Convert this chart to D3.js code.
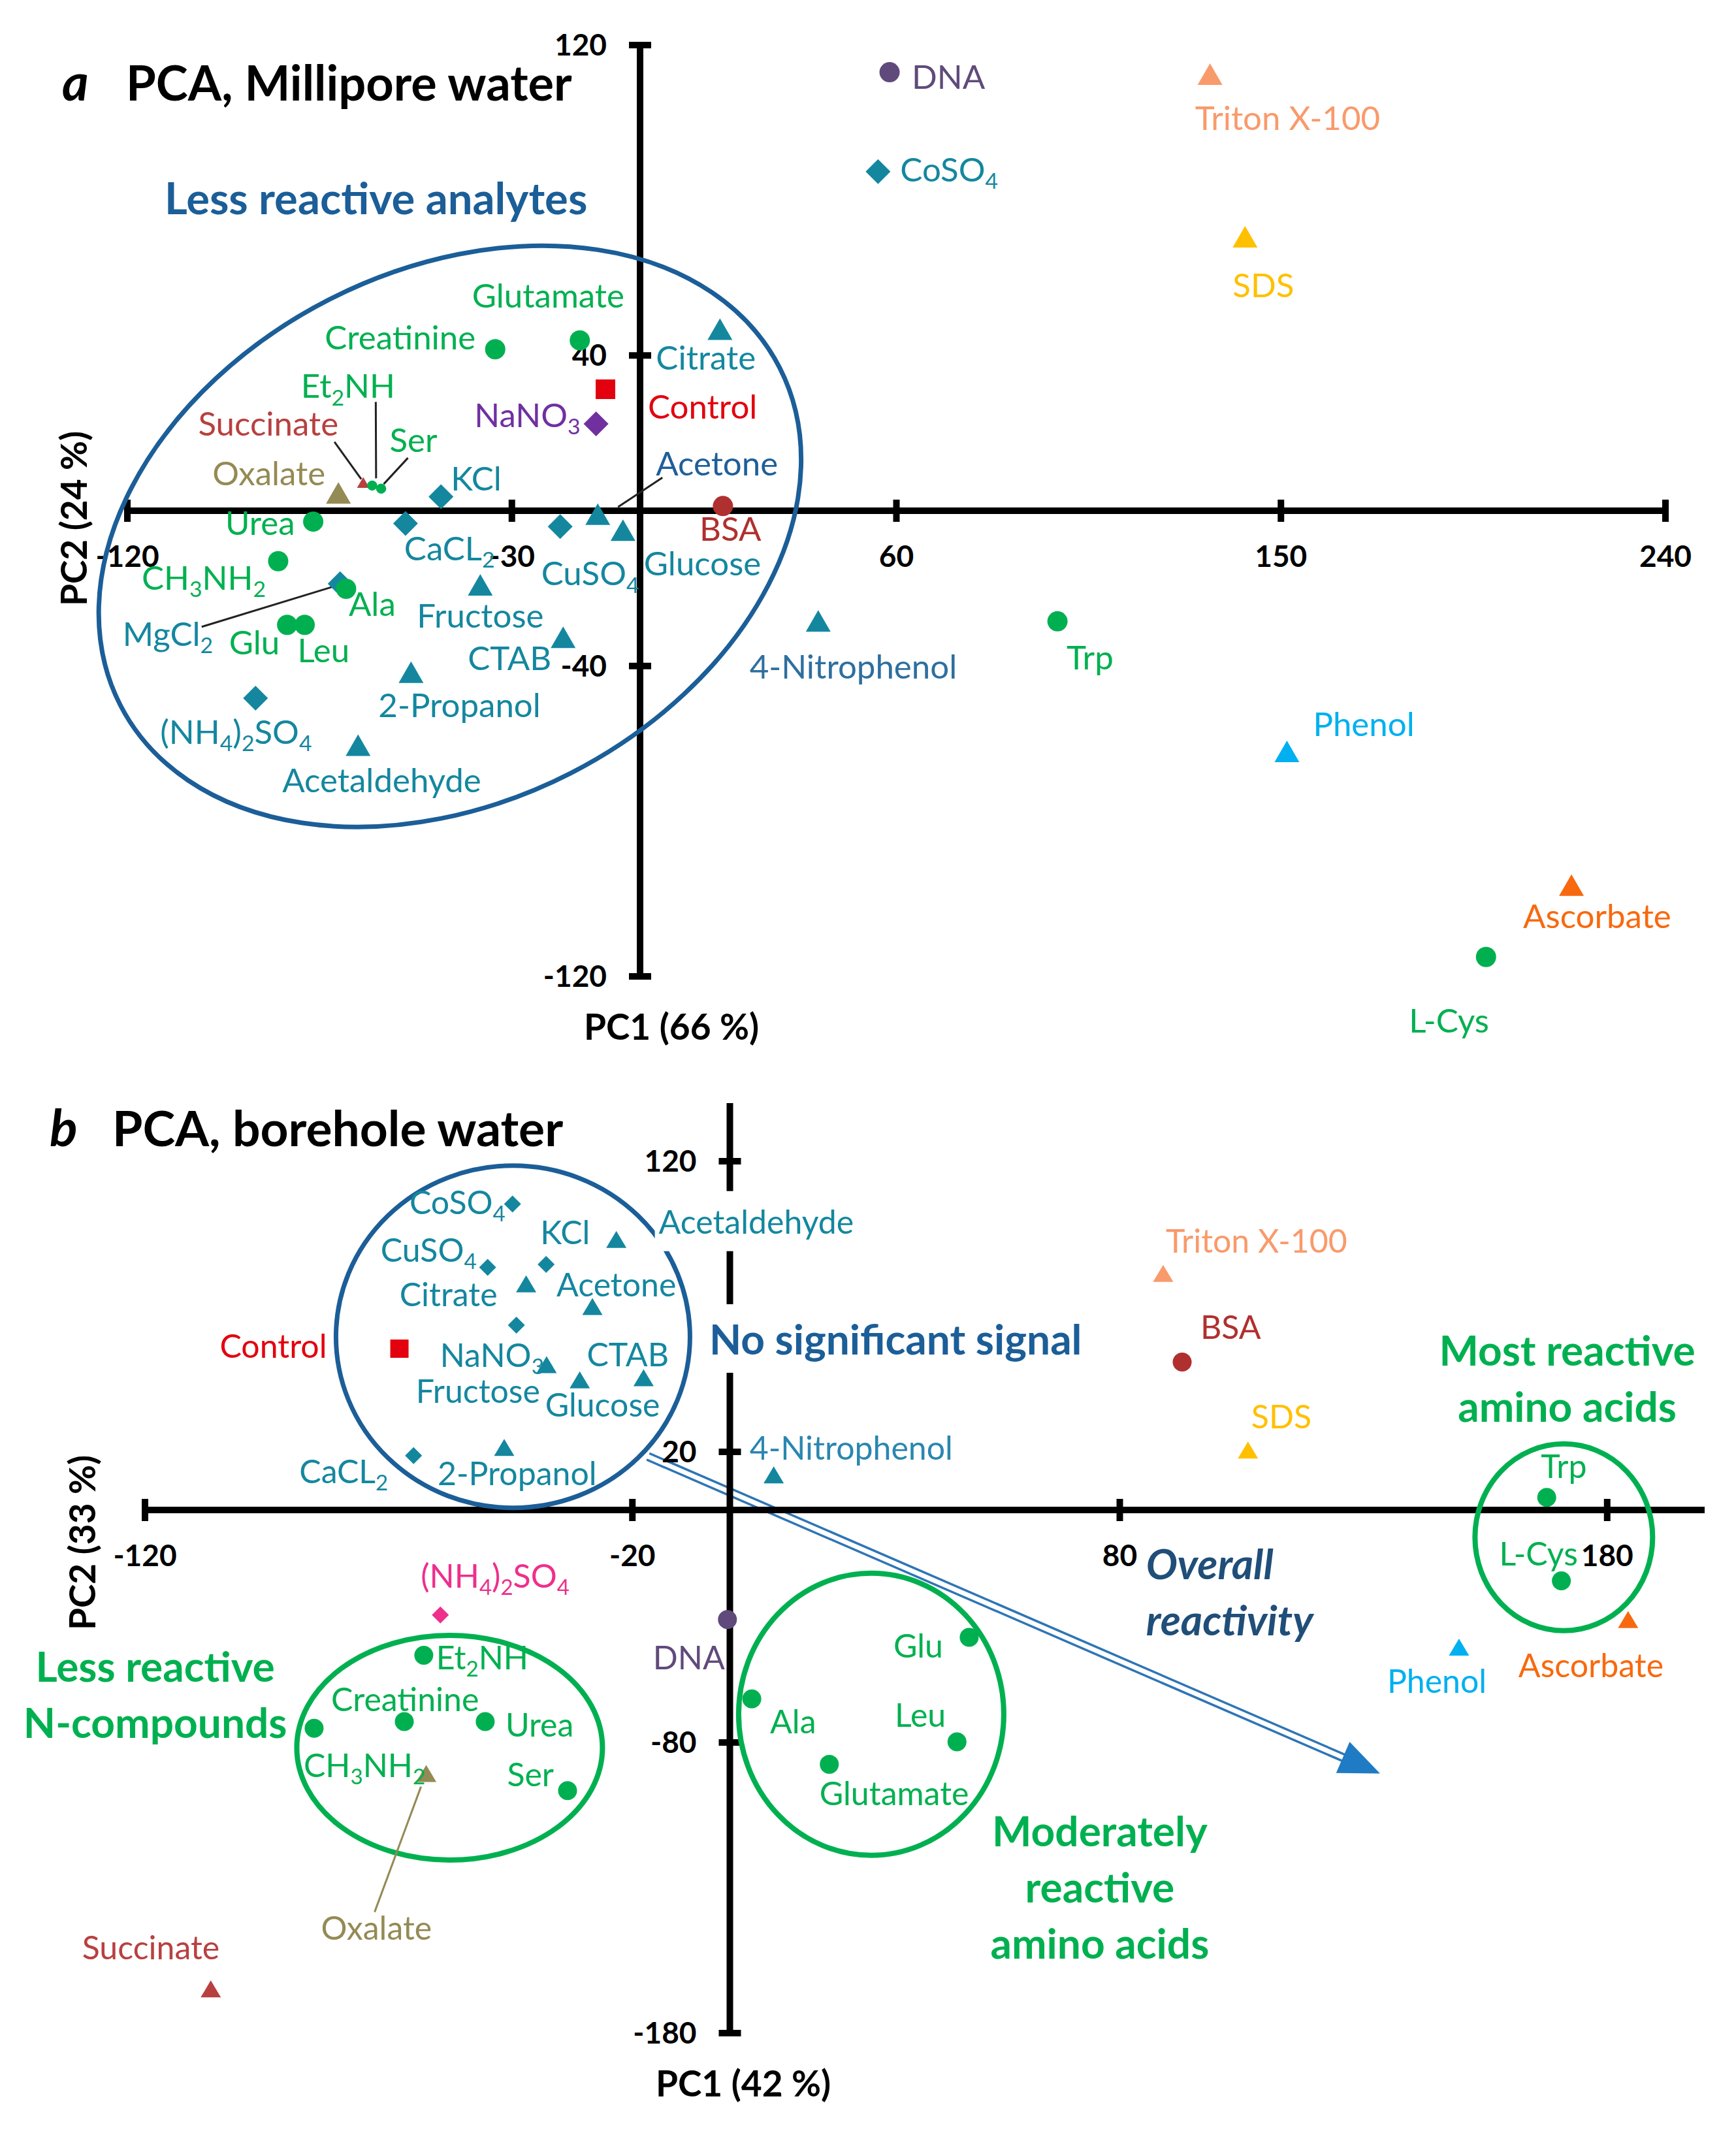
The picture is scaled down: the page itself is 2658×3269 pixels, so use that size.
<!DOCTYPE html>
<html>
<head>
<meta charset="utf-8">
<script src="https://cdn.jsdelivr.net/npm/d3@7"></script>
<style>
  body { margin: 0; background: #fff; }
  text { font-family: Lato, "Open Sans", sans-serif; }
</style>
</head>
<body>
<div id="chart"></div>
<script>
// analytes, same order in both panels
var analytes = ["Control", "NaNO3", "KCl", "CaCl2", "MgCl2", "CuSO4", "CoSO4", "(NH4)2SO4",
  "Citrate", "Acetone", "Glucose", "Fructose", "CTAB", "2-Propanol", "Acetaldehyde", "4-Nitrophenol",
  "Phenol", "SDS", "Triton X-100", "Ascorbate", "Succinate", "Oxalate",
  "BSA", "DNA",
  "Glutamate", "Creatinine", "Et2NH", "Ser", "Urea", "CH3NH2", "Ala", "Glu", "Leu", "Trp", "L-Cys"];

var analyteKind = ["control", "salt", "salt", "salt", "salt", "salt", "salt", "salt",
  "organic", "organic", "organic", "organic", "organic", "organic", "organic", "organic",
  "organic", "organic", "organic", "organic", "organic", "organic",
  "bio", "bio",
  "nitrogen", "nitrogen", "nitrogen", "nitrogen", "nitrogen", "nitrogen", "nitrogen", "nitrogen", "nitrogen", "nitrogen", "nitrogen"];

// panel a: Millipore water
var pc1A = [-8.1, -10.3, -46.6, -54.9, -70.2, -18.7, 55.7, -90.0,
  18.7, -9.9, -4.0, -37.4, -18.0, -53.6, -66.0, 41.7,
  151.4, 141.6, 133.4, 218.0, -64.8, -70.6,
  19.4, 58.4,
  -14.1, -33.9, -62.7, -60.6, -76.5, -84.7, -68.8, -82.6, -78.5, 97.7, 198.0];
var pc2A = [31.3, 22.4, 3.6, -3.3, -18.8, -4.1, 87.4, -48.3,
  46.8, -0.9, -5.0, -19.1, -32.6, -41.6, -60.4, -28.4,
  -62.0, 70.6, 112.5, -96.5, 7.3, 4.6,
  1.2, 113.0,
  43.9, 41.6, 6.5, 5.7, -2.8, -13.0, -20.1, -29.4, -29.4, -28.5, -115.0];

// panel b: borehole water (no MgCl2)
var pc1B = [-67.8, -43.8, -37.7, -64.9, null, -49.7, -44.6, -59.4,
  -41.8, -28.2, -30.8, -37.6, -17.7, -46.3, -23.3, 9.0,
  149.6, 106.3, 88.9, 184.3, -106.5, -62.3,
  92.8, -0.5,
  20.4, -66.8, -62.8, -33.3, -50.2, -85.3, 4.5, 49.1, 46.6, 167.6, 170.6];
var pc2B = [55.5, 63.6, 84.5, 18.7, null, 83.5, 105.3, -36.1,
  77.8, 70.0, 44.8, 50.0, 45.5, 21.5, 93.1, 12.1,
  -47.2, 20.6, 81.4, -37.7, -164.8, -90.7,
  50.9, -37.7,
  -87.5, -72.8, -50.0, -96.6, -72.8, -75.1, -65.0, -43.8, -79.8, 4.3, -24.4];

var ticksAx = [-120, -30, 60, 150, 240];
var ticksAy = [120, 40, -40, -120];
var ticksBx = [-120, -20, 80, 180];
var ticksBy = [120, 20, -80, -180];

// ---------- styles ----------
var width = 2658, height = 3269;
var teal = "#14879F", green = "#00B050", blue = "#1B5E98";

var kindShape = { control: "square", salt: "diamond", organic: "triangle", bio: "circle", nitrogen: "circle" };
var kindColor = { control: "#E3000F", salt: teal, organic: teal, bio: teal, nitrogen: green };
var nameColor = {
  "DNA": "#604A7B", "BSA": "#B0302F", "Triton X-100": "#F99A6B", "SDS": "#FFC000",
  "Phenol": "#00B0F0", "Ascorbate": "#F8690F", "Succinate": "#B8403F", "Oxalate": "#948A54"
};
var panelColor = {
  a: { "NaNO3": "#7030A0" },
  b: { "(NH4)2SO4": "#EE2F8C" }
};
var labelColorOverride = {
  a: { "Acetone": "#1F5F99", "4-Nitrophenol": "#2E6F9E" },
  b: { "4-Nitrophenol": "#2A86B0" }
};

var labelText = {
  "NaNO3": "NaNO{3}", "CaCl2": "CaCL{2}", "MgCl2": "MgCl{2}", "CuSO4": "CuSO{4}",
  "CoSO4": "CoSO{4}", "(NH4)2SO4": "(NH{4}){2}SO{4}", "Et2NH": "Et{2}NH", "CH3NH2": "CH{3}NH{2}"
};

// label offsets from marker in px: [dx, dy, anchor]
var labelPosA = {
  "Control": [65, 45, "start"], "NaNO3": [-24, 5, "end"], "KCl": [15, -10, "start"],
  "CaCl2": [-2, 56, "start"], "MgCl2": [-333, 95, "start"], "CuSO4": [-29, 90, "start"],
  "CoSO4": [34, 15, "start"], "(NH4)2SO4": [-146, 70, "start"], "Citrate": [-98, 62, "start"],
  "Acetone": [89, -59, "start"], "Glucose": [32, 69, "start"], "Fructose": [-97, 66, "start"],
  "CTAB": [-18, 50, "end"], "2-Propanol": [-50, 69, "start"], "Acetaldehyde": [-116, 72, "start"],
  "4-Nitrophenol": [-105, 88, "start"], "Phenol": [40, -23, "start"], "SDS": [-19, 92, "start"],
  "Triton X-100": [-23, 85, "start"], "Ascorbate": [-74, 66, "start"], "Succinate": [-38, -72, "end"],
  "Oxalate": [-20, -12, "end"], "BSA": [-36, 53, "start"], "DNA": [34, 25, "start"],
  "Glutamate": [-165, -50, "start"], "Creatinine": [-30, 0, "end"], "Et2NH": [-109, -134, "start"],
  "Ser": [13, -56, "start"], "Urea": [-28, 20, "end"], "CH3NH2": [-19, 44, "end"],
  "Ala": [4, 42, "start"], "Glu": [-89, 45, "start"], "Leu": [-11, 57, "start"],
  "Trp": [14, 74, "start"], "L-Cys": [-118, 116, "start"]
};
var labelPosB = {
  "Control": [-111, 14, "end"], "NaNO3": [-117, 64, "start"], "KCl": [-9, -31, "start"],
  "CaCl2": [-39, 42, "end"], "CuSO4": [-17, -8, "end"], "CoSO4": [-11, 16, "end"],
  "(NH4)2SO4": [-30, -42, "start"], "Citrate": [-44, 34, "end"], "Acetone": [-55, -16, "start"],
  "Glucose": [-53, 56, "start"], "Fructose": [-10, 58, "end"], "CTAB": [-87, -18, "start"],
  "2-Propanol": [-102, 58, "start"], "Acetaldehyde": [65, -9, "start"], "4-Nitrophenol": [-37, -23, "start"],
  "Phenol": [-110, 70, "start"], "SDS": [5, -33, "start"], "Triton X-100": [4, -32, "start"],
  "Ascorbate": [-168, 88, "start"], "Succinate": [-197, -45, "start"], "Oxalate": [-161, 254, "start"],
  "BSA": [28, -35, "start"], "DNA": [-4, 76, "end"], "Glutamate": [-15, 63, "start"],
  "Creatinine": [-112, -16, "start"], "Et2NH": [19, 21, "start"], "Ser": [-21, -7, "end"],
  "Urea": [31, 23, "start"], "CH3NH2": [-16, 75, "start"], "Ala": [28, 53, "start"],
  "Glu": [-40, 31, "end"], "Leu": [-17, -23, "end"], "Trp": [-9, -30, "start"], "L-Cys": [-95, -24, "start"]
};
var leadersA = {
  "Et2NH": [5.5, -128, 6, -11], "Succinate": [-44, -62, -3, -5], "Ser": [41, -47, 4, -7],
  "Acetone": [99, -56, 31, -11], "MgCl2": [-212, 66, -9, 4]
};
var leadersB = { "Oxalate": [-79, 212, -8, 20] };
var labelBackground = { b: { "Acetaldehyde": true } };
var smallMarkers = { a: { "Succinate": true, "Et2NH": true, "Ser": true } };

var svg = d3.select("#chart")
  .append("svg")
    .attr("width", width)
    .attr("height", height);

svg.append("rect").attr("width", width).attr("height", height).attr("fill", "#fff");

var panels = [
  {
    id: "a", pc1: pc1A, pc2: pc2A, ticksX: ticksAx, ticksY: ticksAy,
    x: d3.scaleLinear().domain([-120, 240]).range([195, 2550]),
    y: d3.scaleLinear().domain([-120, 120]).range([1495, 69]),
    xLine: [-120, 240], yLine: [-120, 120],
    labels: labelPosA, leaders: leadersA, leaderColor: "#222",
    size: { r: 15.5, d: 19, tw: 38, th: 33, sq: 30 }, fontSize: 51,
    title: "PCA, Millipore water", titleSize: 74, titleY: 154, letterX: 95, titleX: 193,
    xTitle: "PC1 (66 %)", xTitlePos: [1028, 1592], yTitle: "PC2 (24 %)", yTitlePos: [133, 794]
  },
  {
    id: "b", pc1: pc1B, pc2: pc2B, ticksX: ticksBx, ticksY: ticksBy,
    x: d3.scaleLinear().domain([-120, 200]).range([222, 2610]),
    y: d3.scaleLinear().domain([-180, 140]).range([3113, 1689]),
    xLine: [-120, 200], yLine: [-180, 140],
    labels: labelPosB, leaders: leadersB, leaderColor: "#948A54",
    size: { r: 14.5, d: 13, tw: 31, th: 26, sq: 28 }, fontSize: 50,
    title: "PCA, borehole water", titleSize: 75, titleY: 1755, letterX: 76, titleX: 172,
    xTitle: "PC1 (42 %)", xTitlePos: [1138, 3210], yTitle: "PC2 (33 %)", yTitlePos: [146, 2362]
  }
];

panels.forEach(drawPanel);

function drawPanel(p) {
  var g = svg.append("g").attr("class", "panel-" + p.id);
  var x = p.x, y = p.y;

  if (p.id === "b") drawArrow(g, p);
  drawAxes(g, p);
  drawShapes(g, p);

  // points
  var pts = analytes.map(function(name, i) {
    return { name: name, kind: analyteKind[i], pc1: p.pc1[i], pc2: p.pc2[i] };
  }).filter(function(d) { return d.pc1 !== null; });

  // leader lines
  pts.forEach(function(d) {
    var l = p.leaders[d.name];
    if (!l) return;
    g.append("line")
      .attr("x1", x(d.pc1) + l[0]).attr("y1", y(d.pc2) + l[1])
      .attr("x2", x(d.pc1) + l[2]).attr("y2", y(d.pc2) + l[3])
      .attr("stroke", p.leaderColor)
      .attr("stroke-width", 3);
  });

  g.selectAll("path.marker")
    .data(pts)
    .enter()
      .append("path")
      .attr("class", "marker")
      .attr("transform", function(d) { return "translate(" + x(d.pc1) + "," + y(d.pc2) + ")"; })
      .attr("d", function(d) {
        var small = smallMarkers[p.id] && smallMarkers[p.id][d.name];
        return markerPath(kindShape[d.kind], p.size, small ? 0.5 : 1);
      })
      .attr("fill", function(d) { return pointColor(p.id, d); });

  // labels
  pts.forEach(function(d) {
    var pos = p.labels[d.name];
    if (!pos) return;
    var c = (labelColorOverride[p.id] && labelColorOverride[p.id][d.name]) || pointColor(p.id, d);
    var t = g.append("text")
      .attr("x", x(d.pc1) + pos[0])
      .attr("y", y(d.pc2) + pos[1])
      .attr("text-anchor", pos[2])
      .attr("font-size", p.fontSize)
      .attr("fill", c);
    richText(t, labelText[d.name] || d.name, p.fontSize);
    if (labelBackground[p.id] && labelBackground[p.id][d.name]) addBackground(g, t, 6, 16);
  });

  // title
  g.append("text")
    .attr("x", p.letterX).attr("y", p.titleY)
    .attr("font-size", p.titleSize + 4).attr("font-weight", 700).attr("font-style", "italic")
    .text(p.id);
  g.append("text")
    .attr("x", p.titleX).attr("y", p.titleY)
    .attr("font-size", p.titleSize).attr("font-weight", 700)
    .text(p.title);

  // axis titles
  g.append("text")
    .attr("x", p.xTitlePos[0]).attr("y", p.xTitlePos[1])
    .attr("text-anchor", "middle").attr("font-size", 55).attr("font-weight", 700)
    .text(p.xTitle);
  g.append("text")
    .attr("transform", "translate(" + p.yTitlePos[0] + "," + p.yTitlePos[1] + ") rotate(-90)")
    .attr("text-anchor", "middle").attr("font-size", 55).attr("font-weight", 700)
    .text(p.yTitle);

  drawNotes(g, p);
}

function pointColor(panelId, d) {
  return (panelColor[panelId][d.name]) || nameColor[d.name] || kindColor[d.kind];
}

function markerPath(shape, s, k) {
  if (shape === "diamond") {
    var h = s.d * k;
    return "M0," + (-h) + "L" + h + ",0L0," + h + "L" + (-h) + ",0Z";
  }
  if (shape === "triangle") {
    var w = s.tw * k / 2, hh = s.th * k / 2;
    return "M0," + (-hh) + "L" + w + "," + hh + "L" + (-w) + "," + hh + "Z";
  }
  if (shape === "square") {
    var q = s.sq * k / 2;
    return "M" + (-q) + "," + (-q) + "H" + q + "V" + q + "H" + (-q) + "Z";
  }
  var r = s.r * k;
  return "M" + (-r) + ",0A" + r + "," + r + " 0 1,0 " + r + ",0A" + r + "," + r + " 0 1,0 " + (-r) + ",0Z";
}

// "CH{3}NH{2}" -> subscripts
function richText(sel, str, size) {
  var parts = str.split(/(\{[^}]*\})/).filter(function(s) { return s.length; });
  var shift = size * 0.22, lowered = false;
  parts.forEach(function(part) {
    if (part.charAt(0) === "{") {
      sel.append("tspan")
        .attr("font-size", size * 0.66)
        .attr("dy", lowered ? 0 : shift)
        .text(part.slice(1, -1));
      lowered = true;
    } else {
      sel.append("tspan")
        .attr("dy", lowered ? -shift : 0)
        .text(part);
      lowered = false;
    }
  });
}

function addBackground(g, textSel, padX, padY) {
  var bb = textSel.node().getBBox();
  g.insert("rect", function() { return textSel.node(); })
    .attr("x", bb.x - padX).attr("y", bb.y - padY)
    .attr("width", bb.width + padX * 2).attr("height", bb.height + padY * 2)
    .attr("fill", "#fff");
}

function drawAxes(g, p) {
  var x = p.x, y = p.y, x0 = x(0), y0 = y(0), tick = 17;
  var ax = g.append("g").attr("class", "axes");

  ax.append("line")
    .attr("x1", x(p.xLine[0])).attr("x2", x(p.xLine[1]))
    .attr("y1", y0).attr("y2", y0)
    .attr("stroke", "#000").attr("stroke-width", 10);
  ax.append("line")
    .attr("x1", x0).attr("x2", x0)
    .attr("y1", y(p.yLine[1])).attr("y2", y(p.yLine[0]))
    .attr("stroke", "#000").attr("stroke-width", 10);

  ax.selectAll("line.xtick")
    .data(p.ticksX)
    .enter()
      .append("line")
      .attr("class", "xtick")
      .attr("x1", function(d) { return x(d); }).attr("x2", function(d) { return x(d); })
      .attr("y1", y0 - tick).attr("y2", y0 + tick)
      .attr("stroke", "#000").attr("stroke-width", 10);
  ax.selectAll("text.xtick")
    .data(p.ticksX)
    .enter()
      .append("text")
      .attr("class", "xtick")
      .attr("x", function(d) { return x(d); })
      .attr("y", y0 + 86)
      .attr("text-anchor", "middle")
      .attr("font-size", 46).attr("font-weight", 700)
      .text(function(d) { return d; });

  ax.selectAll("line.ytick")
    .data(p.ticksY)
    .enter()
      .append("line")
      .attr("class", "ytick")
      .attr("x1", x0 - tick).attr("x2", x0 + tick)
      .attr("y1", function(d) { return y(d); }).attr("y2", function(d) { return y(d); })
      .attr("stroke", "#000").attr("stroke-width", 10);
  ax.selectAll("text.ytick")
    .data(p.ticksY)
    .enter()
      .append("text")
      .attr("class", "ytick")
      .attr("x", x0 - 51)
      .attr("y", function(d) { return y(d) + 16; })
      .attr("text-anchor", "end")
      .attr("font-size", 46).attr("font-weight", 700)
      .text(function(d) { return d; });
}

// enclosing ellipses: centre in data units, radii in px
function drawShapes(g, p) {
  var shapes = p.id === "a"
    ? [{ c: [-44.5, -6.6], rx: 567, ry: 407, rot: -27.1, color: blue, w: 7 }]
    : [{ c: [-44.5, 59.6], rx: 271, ry: 262, rot: 0, color: blue, w: 7 },
       { c: [-57.5, -81.8], rx: 234, ry: 172, rot: 0, color: green, w: 8 },
       { c: [29.0, -70.3], rx: 203, ry: 216, rot: 0, color: green, w: 8 },
       { c: [171.1, -9.4], rx: 136, ry: 143, rot: 0, color: green, w: 8 }];
  g.selectAll("ellipse.group")
    .data(shapes)
    .enter()
      .append("ellipse")
      .attr("class", "group")
      .attr("transform", function(d) {
        return "translate(" + p.x(d.c[0]) + "," + p.y(d.c[1]) + ") rotate(" + d.rot + ")";
      })
      .attr("rx", function(d) { return d.rx; })
      .attr("ry", function(d) { return d.ry; })
      .attr("fill", "none")
      .attr("stroke", function(d) { return d.color; })
      .attr("stroke-width", function(d) { return d.w; });
}

function drawArrow(g, p) {
  var x1 = p.x(-16.8), y1 = p.y(18.4), x2 = p.x(133.4), y2 = p.y(-90.7);
  var ang = Math.atan2(y2 - y1, x2 - x1), headLen = 62, headW = 26;
  var bx = x2 - headLen * Math.cos(ang), by = y2 - headLen * Math.sin(ang);
  var a = g.append("g").attr("class", "arrow");
  a.append("line")
    .attr("x1", x1).attr("y1", y1).attr("x2", bx + 8 * Math.cos(ang)).attr("y2", by + 8 * Math.sin(ang))
    .attr("stroke", "#2E75B6").attr("stroke-width", 14);
  a.append("line")
    .attr("x1", x1 - 2 * Math.cos(ang)).attr("y1", y1 - 2 * Math.sin(ang))
    .attr("x2", bx + 8 * Math.cos(ang)).attr("y2", by + 8 * Math.sin(ang))
    .attr("stroke", "#fff").attr("stroke-width", 7);
  var nx = -Math.sin(ang), ny = Math.cos(ang);
  a.append("path")
    .attr("d", "M" + x2 + "," + y2 +
      "L" + (bx + nx * headW) + "," + (by + ny * headW) +
      "L" + (bx - nx * headW) + "," + (by - ny * headW) + "Z")
    .attr("fill", "#1F7BC4");
}

// text annotations: first baseline in data units, then line step in px
function drawNotes(g, p) {
  var notes = p.id === "a"
    ? [{ lines: ["Less reactive analytes"], at: [-61.8, 76.4], color: blue, anchor: "middle", size: 67 }]
    : [{ lines: ["No significant signal"], at: [34.0, 53.5], color: blue, anchor: "middle", bg: true },
       { lines: ["Less reactive", "N-compounds"], at: [-117.9, -59.1], color: green, anchor: "middle" },
       { lines: ["Most reactive", "amino acids"], at: [171.8, 49.7], color: green, anchor: "middle" },
       { lines: ["Overall", "reactivity"], at: [85.4, -23.8], color: "#1F4E79", anchor: "start", italic: true },
       { lines: ["Moderately", "reactive", "amino acids"], at: [75.9, -115.7], color: green, anchor: "middle" }];
  notes.forEach(function(n) {
    var t = g.append("text")
      .attr("x", p.x(n.at[0]))
      .attr("y", p.y(n.at[1]))
      .attr("text-anchor", n.anchor)
      .attr("font-size", n.size || 64)
      .attr("font-weight", 700)
      .attr("font-style", n.italic ? "italic" : "normal")
      .attr("fill", n.color);
    n.lines.forEach(function(line, i) {
      t.append("tspan")
        .attr("x", p.x(n.at[0]))
        .attr("dy", i === 0 ? 0 : 86)
        .text(line);
    });
    if (n.bg) addBackground(g, t, 10, 14);
  });
}
</script>
</body>
</html>
